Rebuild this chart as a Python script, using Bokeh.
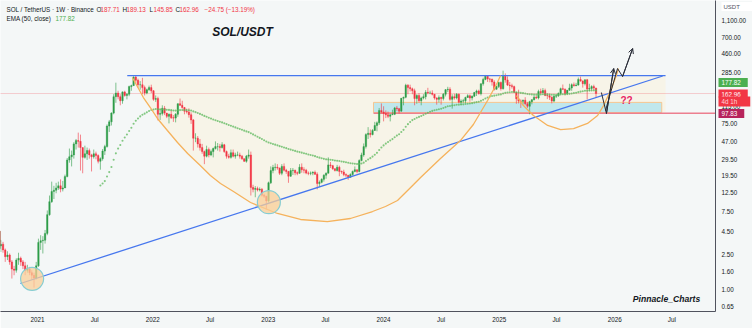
import math
import numpy as np
import pandas as pd
from bokeh.plotting import figure
from bokeh.models import (Range1d, FixedTicker, NumeralTickFormatter, Label, Arrow,
                          OpenHead, ColumnDataSource)
from bokeh.embed import file_html
from bokeh.resources import INLINE

# ---------------- weekly SOL/USDT candles (Binance, weeks from 2020-08-10) ----------------
first_open = 2.90
close_2020 = [3.50, 3.60, 4.55, 3.10, 3.25, 2.80, 2.35, 2.45, 2.05, 1.70, 1.65, 2.15, 2.25, 2.05, 1.85,
              1.65, 1.70, 1.55, 1.45, 1.35, 1.85]
high_2020 = [3.95, 4.10, 4.95, 4.95, 3.60, 3.45, 2.90, 2.70, 2.55, 2.15, 1.85, 2.25, 2.60, 2.35, 2.15,
             2.05, 1.90, 1.80, 1.65, 1.55, 2.05]
low_2020 = [2.60, 3.05, 3.40, 2.60, 2.65, 2.60, 2.05, 2.15, 1.90, 1.33, 1.45, 1.55, 1.90, 1.85, 1.70,
            1.45, 1.55, 1.45, 1.30, 1.05, 1.30]

close_2021 = [3.40, 3.55, 3.60, 4.30, 7.00, 9.80, 12.8, 13.2, 14.0, 14.8, 13.6, 14.0, 18.8, 29.0, 31.5,
              33.0, 44.0, 48.0, 47.0, 40.0, 31.0, 34.0, 37.0, 33.0, 31.5, 34.0, 32.5, 28.0, 30.0, 36.5,
              41.0, 70.0, 78.0, 98.0, 150, 165, 150, 135, 170, 155, 160, 195, 200, 250, 230, 205, 205,
              190, 165, 180, 190, 175]
high_2021 = [3.75, 4.10, 4.00, 4.70, 7.80, 11.5, 16.5, 14.8, 16.0, 16.5, 17.5, 16.8, 19.8, 30.5, 39.0,
             37.0, 46.0, 50.0, 59.0, 56.0, 40.0, 42.0, 40.0, 39.0, 34.0, 38.0, 36.0, 33.5, 31.0, 38.5,
             43.0, 73.0, 82.0, 100, 160, 216, 175, 160, 172, 175, 165, 200, 205, 255, 260, 240, 225,
             245, 200, 185, 200, 205]
low_2021 = [1.80, 2.80, 2.55, 3.30, 4.10, 6.80, 9.50, 10.5, 12.2, 13.3, 12.5, 12.8, 14.0, 18.5, 27.0,
            24.5, 30.0, 38.0, 40.0, 22.0, 20.5, 30.0, 29.0, 30.0, 21.5, 30.0, 29.5, 26.5, 22.5, 28.5,
            33.0, 40.0, 60.0, 71.0, 95.0, 128, 140, 120, 125, 150, 140, 152, 175, 200, 215, 190, 180,
            160, 155, 160, 175, 165]

close_2022 = [140, 143, 95, 97, 111, 98, 90, 95, 87, 86, 95, 125, 120, 113, 103, 101, 94, 82, 51, 51,
              44, 40, 36, 32, 38, 33, 36, 39, 41, 41, 40, 43, 36, 32, 31, 35, 32, 33, 33, 32, 30, 28,
              32, 33, 14.2, 13.5, 13.8, 13.3, 13.5, 11.6, 11.3, 10.0]
high_2022 = [178, 155, 150, 108, 120, 118, 98, 97, 105, 93, 98, 126, 143, 135, 115, 110, 111, 100, 84,
             58, 54, 50, 44, 37, 42, 40, 38, 40, 47, 45, 44, 46, 44, 37, 34, 38, 38, 35, 36, 35, 33,
             30, 33, 38, 36, 15.2, 14.7, 14.5, 14.2, 14.0, 12.0, 11.4]
low_2022 = [135, 131, 81, 82, 92, 93, 86, 75, 84, 78, 77, 89, 118, 110, 95, 97, 87, 74, 37, 46, 40,
            37, 34, 26, 31, 31, 32, 31, 38, 37, 36, 39, 35, 30, 30, 30, 31, 30, 32, 30, 29, 27.5, 27,
            30, 11.5, 12.5, 11.0, 12.8, 12.8, 11.2, 10.8, 8.0]

close_2023 = [16.0, 22.0, 23.8, 24.0, 23.5, 20.5, 24.5, 22.2, 21.5, 19.0, 22.0, 22.2, 20.8, 20.5, 24.0,
              22.5, 22.2, 20.6, 20.5, 20.6, 21.0, 20.0, 15.7, 16.2, 17.5, 19.5, 20.5, 25.5, 25.0, 23.0,
              22.0, 24.0, 21.5, 21.2, 19.8, 19.5, 18.5, 19.8, 21.5, 22.5, 21.5, 28.5, 33.0, 41.0, 56.0,
              58.0, 56.0, 62.5, 71.0, 76.0, 105, 101]
high_2023 = [16.5, 24.5, 25.5, 26.5, 26.0, 23.8, 26.0, 26.5, 23.0, 21.8, 23.5, 23.5, 22.5, 21.5, 26.0,
             26.5, 24.0, 23.0, 21.5, 21.5, 21.6, 22.0, 21.0, 17.0, 18.0, 20.0, 21.0, 31.0, 27.5, 25.5,
             23.5, 25.5, 25.0, 22.0, 22.5, 20.5, 19.5, 20.5, 22.0, 24.5, 22.5, 29.5, 35.0, 44.5, 58.0,
             68.0, 64.0, 64.5, 78.0, 79.0, 112, 126]
low_2023 = [9.6, 15.5, 20.5, 22.0, 22.5, 19.6, 19.5, 21.5, 20.2, 16.0, 18.7, 19.6, 19.5, 19.5, 20.2,
            20.8, 20.5, 20.0, 19.5, 19.5, 19.5, 19.6, 13.5, 14.3, 15.8, 16.5, 17.8, 20.5, 23.5, 22.5,
            21.5, 21.5, 19.0, 20.2, 19.0, 18.5, 17.3, 18.3, 19.3, 21.0, 20.5, 21.0, 28.0, 31.5, 39.0,
            50.0, 52.0, 55.0, 61.5, 61.0, 72.0, 97.0]

close_2024 = [97, 94, 90, 94, 95, 112, 110, 103, 144, 148, 202, 190, 184, 175, 143, 155, 135, 145, 150,
              168, 165, 165, 160, 145, 140, 147, 143, 160, 180, 182, 140, 150, 145, 160, 130, 134, 135,
              147, 154, 145, 152, 167, 174, 162, 210, 235, 255, 238, 236, 220, 182, 195, 217]
high_2024 = [117, 105, 102, 95, 107, 115, 118, 112, 145, 150, 210, 208, 205, 190, 185, 160, 165, 150,
             160, 178, 189, 175, 177, 160, 148, 155, 150, 165, 183, 194, 192, 160, 162, 165, 163, 140,
             142, 150, 160, 159, 155, 170, 180, 180, 212, 246, 264, 260, 245, 240, 230, 200, 222]
low_2024 = [79, 86, 86, 79, 93, 93, 103, 97, 102, 120, 144, 160, 172, 160, 120, 125, 128, 120, 140,
            140, 160, 160, 155, 139, 122, 129, 122, 136, 151, 169, 135, 110, 139, 140, 127, 121, 128,
            127, 146, 132, 136, 149, 153, 159, 155, 200, 230, 220, 218, 200, 176, 180, 188]

close_2025 = [185, 255, 232, 203, 200, 195, 168, 142, 134, 133, 137, 125, 117, 132, 139, 148, 145, 172,
              166, 176, 155, 154, 148, 134, 152, 154, 163, 185, 182, 163, 177, 188, 205, 200, 203, 235,
              225, 210, 233, 183, 186, 195, 187.71, 162.96]
high_2025 = [223, 295, 275, 255, 220, 210, 200, 168, 180, 140, 139, 148, 131, 135, 140, 156, 154, 180,
             185, 188, 185, 163, 162, 151, 155, 157, 168, 190, 206, 186, 179, 210, 212, 217, 215, 247,
             253, 230, 234, 238, 210, 202, 205, 189.13]
low_2025 = [176, 180, 216, 198, 175, 185, 165, 125, 126, 112, 122, 120, 112, 95, 123, 136, 141, 140,
            160, 165, 152, 141, 138, 126, 130, 145, 149, 158, 178, 155, 158, 176, 175, 195, 197, 200,
            222, 190, 201, 140, 174, 177, 180, 145.85]

closes = close_2020 + close_2021 + close_2022 + close_2023 + close_2024 + close_2025
highs = high_2020 + high_2021 + high_2022 + high_2023 + high_2024 + high_2025
lows = low_2020 + low_2021 + low_2022 + low_2023 + low_2024 + low_2025
opens = [first_open] + closes[:-1]
dates = pd.date_range("2020-08-10", periods=len(closes), freq="7D")

# legend / price-scale values
last_ohlc = {"O": "187.71", "H": "189.13", "L": "145.85", "C": "162.96"}
change_text = "\u221224.75 (\u221213.19%)"
ema_value = 177.82
last_close = 162.96
support_ray = 97.83
countdown = "4d 1h"
y_ticks = [0.65, 1.0, 1.6, 2.5, 4.5, 7.5, 12.5, 19.5, 29.5, 47, 75, 115, 285, 460, 700, 1100]
x_tick_dates = [f"{y}-{m}-01" for y in range(2021, 2027) for m in ("01", "07")]
x_tick_labels = [lab for y in range(2021, 2027) for lab in (str(y), "Jul")]

# ---------------- drawings (date, price) ----------------
resist_dates = ["2021-10-12", "2026-06-11"]
resist_prices = [260, 260]
trend_dates = ["2020-11-08", "2026-06-02"]
trend_prices = [1.169, 256.9]
big_arc_dates = ["2021-10-28", "2021-11-13", "2021-12-02", "2021-12-24", "2022-01-18", "2022-02-16",
                 "2022-03-20", "2022-04-21", "2022-05-31", "2022-07-02", "2022-08-03", "2022-09-13",
                 "2022-11-06", "2023-01-30", "2023-04-13", "2023-07-07", "2023-09-18", "2023-11-27",
                 "2024-01-07", "2024-02-14", "2024-04-05", "2024-04-27", "2024-06-29", "2024-08-31",
                 "2024-10-11", "2024-11-25", "2024-12-26", "2025-01-05"]
big_arc_prices = [247, 195.5, 146.9, 113.3, 82.9, 62.3, 45.6, 34.3, 25.1, 19.35, 15.72, 12.77, 9.59,
                  7.21, 6.17, 5.85, 6.33, 7.59, 8.65, 10.1, 15.3, 18.4, 30.1, 48.0, 72.8, 135.9, 216.9,
                  260.2]
small_arc_dates = ["2025-02-24", "2025-03-15", "2025-04-19", "2025-06-03", "2025-07-14", "2025-08-24",
                   "2025-10-07", "2025-11-08", "2025-11-27", "2025-12-19", "2026-01-04", "2026-01-13"]
small_arc_prices = [154.7, 122.5, 92.0, 71.0, 63.9, 65.6, 74.8, 92.0, 119.3, 176.2, 247, 312.2]
cream_rect = (["2024-10-20", "2026-06-11"], [99.5, 260])
zone_dates = ["2023-11-30", "2026-05-30"]
zone_prices = [99.5, 129.4]
ray_start = "2023-11-30"
circle_dates = ["2020-12-15", "2023-01-03"]
circle_prices = [1.32, 9.67]
path_a_dates = ["2025-11-20", "2025-12-06", "2025-12-29"]
path_a_prices = [167.3, 96.9, 312.2]
path_b_dates = ["2025-12-03", "2026-01-10", "2026-01-26", "2026-02-27"]
path_b_prices = [104.8, 312.2, 253.6, 525]


def ms(s):
    return pd.Timestamp(s).value / 1e6


# EMA(50, close) as TradingView defines it (SMA seed, then exponential)
n = 50
alpha = 2.0 / (n + 1)
ema = [np.nan] * len(closes)
ema[n - 1] = float(np.mean(closes[:n]))
for i in range(n, len(closes)):
    ema[i] = alpha * closes[i] + (1 - alpha) * ema[i - 1]

BG = "#f4f7f7"
CREAM = "#f7f4e8"
UP = "#2e9d49"
DOWN = "#f23645"
TXT = "#131722"
BLUE = "#4677ee"
FONT = "Liberation Sans"
FW, FH = 715, 311
X0, X1 = ms("2020-09-06"), ms("2026-11-16")
Y0, Y1 = 0.5646, 1828.0

p = figure(frame_width=FW, frame_height=FH, x_axis_type="datetime", y_axis_type="log",
           x_range=Range1d(X0, X1), y_range=Range1d(Y0, Y1),
           y_axis_location="right", output_backend="svg", toolbar_location=None,
           min_border_left=0, min_border_top=0, min_border_right=37, min_border_bottom=17,
           background_fill_color=BG, border_fill_color=BG)
p.grid.grid_line_color = None
p.outline_line_color = None

# axes
for ax in (p.xaxis, p.yaxis):
    ax.major_tick_line_color = None
    ax.minor_tick_line_color = None
    ax.major_tick_out = 0
    ax.major_tick_in = 0
    ax.minor_tick_out = 0
    ax.minor_tick_in = 0
    ax.major_label_text_font_size = "6.3px"
    ax.major_label_text_font = FONT
    ax.major_label_text_color = TXT
    ax.axis_line_color = "#50535e"

p.yaxis.ticker = FixedTicker(ticks=y_ticks)
p.yaxis.formatter = NumeralTickFormatter(format="0,0.00")
p.yaxis.major_label_standoff = 6

x_ticks = [ms(d) for d in x_tick_dates]
p.xaxis.ticker = FixedTicker(ticks=x_ticks)
p.xaxis.major_label_overrides = {t: lab for t, lab in zip(x_ticks, x_tick_labels)}
p.xaxis.major_label_standoff = 4

# cream background of the pattern
p.patch([ms(d) for d in big_arc_dates], big_arc_prices, fill_color=CREAM, line_color=None)
p.quad(left=[ms(cream_rect[0][0])], right=[ms(cream_rect[0][1])], bottom=[cream_rect[1][0]],
       top=[cream_rect[1][1]], fill_color=CREAM, line_color=None)

# support zone
p.quad(left=[ms(zone_dates[0])], right=[ms(zone_dates[1])], bottom=[zone_prices[0]], top=[zone_prices[1]],
       fill_color="#b9e6ec", fill_alpha=0.9, line_color="#f5c590", line_width=1)

# current-price line and support ray
p.line([ms("2020-01-01"), ms("2027-06-01")], [last_close, last_close], line_color=DOWN, line_alpha=0.22,
       line_width=1)
p.line([ms(ray_start), ms("2027-06-01")], [support_ray, support_ray], line_color="#ec7f8f", line_width=1.5)

# candles
src = ColumnDataSource(dict(
    x=[ms(d) for d in dates],
    top=[max(o, c) for o, c in zip(opens, closes)],
    bottom=[min(o, c) for o, c in zip(opens, closes)],
    high=highs, low=lows,
    color=[UP if c >= o else DOWN for o, c in zip(opens, closes)],
))
p.segment(x0="x", y0="low", x1="x", y1="high", line_color="color", line_alpha=0.6, line_width=1, source=src)
p.vbar(x="x", width=4.6 * 86400000, top="top", bottom="bottom", fill_color="color", line_color="color",
       line_width=0.4, source=src)

# EMA 50 dots
p.scatter([ms(d) for d in dates[n - 1:]], ema[n - 1:], size=2.1, fill_color="#5cb85c", line_color=None,
          fill_alpha=0.75)

# trend lines
p.line([ms(d) for d in resist_dates], resist_prices, line_color=BLUE, line_width=1.3)
p.line([ms(d) for d in trend_dates], trend_prices, line_color=BLUE, line_width=1.3)

# arcs
p.line([ms(d) for d in big_arc_dates], big_arc_prices, line_color="#f5b25c", line_width=1.3)
p.line([ms(d) for d in small_arc_dates], small_arc_prices, line_color="#f5b25c", line_width=1.3)

# circles
p.scatter([ms(d) for d in circle_dates], circle_prices, size=23, fill_color="#f9cf98", fill_alpha=0.75,
          line_color="#86cdd2", line_width=1.2)

# projection paths
for dts, prs in ((path_a_dates, path_a_prices), (path_b_dates, path_b_prices)):
    xs = [ms(d) for d in dts]
    p.line(xs, prs, line_color="#2a2e39", line_width=1)
    p.add_layout(Arrow(end=OpenHead(size=5, line_color="#2a2e39", line_width=1),
                       x_start=xs[-2], y_start=prs[-2], x_end=xs[-1], y_end=prs[-1],
                       line_color="#2a2e39", line_width=1))


def lab(text, x, y, color=TXT, size="6.3px", style="normal", align="left", font=FONT, **kw):
    p.add_layout(Label(x=x, y=FH - y, x_units="screen", y_units="screen", text=text,
                       text_color=color, text_font_size=size, text_font_style=style,
                       text_align=align, text_baseline="middle", text_font=font, **kw))


# legend (top-left)
lab("SOL / TetherUS \u00b7 1W \u00b7 Binance", 6, 9)
xpos = {"O": 96, "H": 122, "L": 149, "C": 175}
for k, v in last_ohlc.items():
    lab(k, xpos[k], 9)
    lab(v, xpos[k] + 4, 9, color=DOWN)
lab(change_text, 204, 9, color=DOWN)
lab("EMA (50, close)", 6, 18)
lab(f"{ema_value:.2f}", 55, 18, color="#4caf50")

# titles / annotations
lab("SOL/USDT", 242, 31, size="12px", style="bold italic", align="center")
lab("Pinnacle_Charts", 666, 298, size="8.6px", style="bold italic", align="center")
lab("??", 620, 100, color="#e91e63", size="10px", style="bold")


# price-scale tags live in the right-hand panel (so they are not clipped to the frame)
def px_x(px):
    return X0 + (X1 - X0) * px / FW


def px_y(py):
    return math.exp(math.log(Y0) + (math.log(Y1) - math.log(Y0)) * (FH - py) / FH)


def tag(text, px, py, color="#ffffff", bg=None, size="6.3px", pad=None):
    pad = pad or dict(left=3, right=7, top=2, bottom=2)
    p.add_layout(Label(x=px_x(px), y=px_y(py), x_units="data", y_units="data", text=text,
                       text_color=color, text_font_size=size, text_font=FONT, text_align="left",
                       text_baseline="middle", background_fill_color=bg, padding=pad), "right")


tag("USDT", 721, 6, color="#50535e", bg="#ffffff", size="6px",
    pad=dict(left=2, right=14, top=2, bottom=1))
tag(f"{ema_value:.2f}", 718, 82, bg="#4caf50")
tag(f"{last_close:.2f}", 718, 93, bg="#f23645", pad=dict(left=3, right=7, top=2, bottom=1))
tag(countdown, 718, 101, color="#ffd6da", bg="#f23645", pad=dict(left=3, right=13, top=1, bottom=2))
tag(f"{support_ray:.2f}", 718, 113, bg="#b7245c")

open("out.html", "w").write(file_html(p, INLINE))
